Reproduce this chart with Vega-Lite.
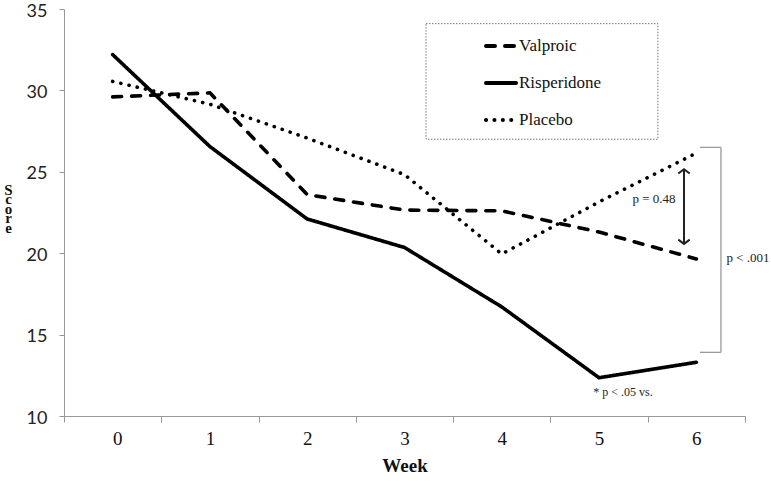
{
  "$schema": "https://vega.github.io/schema/vega-lite/v6.json",
  "width": 681,
  "height": 407,
  "autosize": {"type": "none"},
  "padding": {"left": 64, "top": 9, "right": 26, "bottom": 65},
  "background": "white",
  "config": {"view": {"stroke": null}},
  "datasets": {
    "scores": [
      {"week": 0, "score": 29.6, "drug": "Valproic"},
      {"week": 1, "score": 29.85, "drug": "Valproic"},
      {"week": 2, "score": 23.6, "drug": "Valproic"},
      {"week": 3, "score": 22.65, "drug": "Valproic"},
      {"week": 4, "score": 22.6, "drug": "Valproic"},
      {"week": 5, "score": 21.3, "drug": "Valproic"},
      {"week": 6, "score": 19.65, "drug": "Valproic"},
      {"week": 0, "score": 32.2, "drug": "Risperidone"},
      {"week": 1, "score": 26.55, "drug": "Risperidone"},
      {"week": 2, "score": 22.1, "drug": "Risperidone"},
      {"week": 3, "score": 20.35, "drug": "Risperidone"},
      {"week": 4, "score": 16.7, "drug": "Risperidone"},
      {"week": 5, "score": 12.35, "drug": "Risperidone"},
      {"week": 6, "score": 13.3, "drug": "Risperidone"},
      {"week": 0, "score": 30.55, "drug": "Placebo"},
      {"week": 1, "score": 29.15, "drug": "Placebo"},
      {"week": 2, "score": 27.07, "drug": "Placebo"},
      {"week": 3, "score": 24.83, "drug": "Placebo"},
      {"week": 4, "score": 19.95, "drug": "Placebo"},
      {"week": 5, "score": 23.15, "drug": "Placebo"},
      {"week": 6, "score": 26.15, "drug": "Placebo"}
    ],
    "box": [{"x1": 3.221, "x2": 5.605, "y1": 34.1, "y2": 27.0}],
    "bracketV": [{"x": 6.253, "y1": 26.5, "y2": 13.91}],
    "bracketH": [{"x1": 6.037, "x2": 6.253, "y": 26.5}, {"x1": 6.037, "x2": 6.253, "y": 13.91}],
    "arrow": [{"x": 5.873, "y1": 25.16, "y2": 20.57}],
    "heads": [{"x": 5.873, "y": 25.16, "dir": "up"}, {"x": 5.873, "y": 20.57, "dir": "down"}],
    "notesCenter": [
      {"x": 5.564, "y": 23.33, "label": "p = 0.48", "size": 13},
      {"x": 5.246, "y": 11.47, "label": "* p < .05 vs.", "size": 12}
    ],
    "notesLeft": [
      {"x": 6.31, "y": 19.72, "label": "p < .001", "size": 13}
    ]
  },
  "layer": [
    {
      "data": {"name": "box"},
      "mark": {"type": "rect", "fill": null, "stroke": "#777", "strokeWidth": 1, "strokeDash": [1.5, 1.5]},
      "encoding": {
        "x": {"field": "x1", "type": "quantitative", "scale": {"domain": [-0.5, 6.5], "nice": false, "zero": false},
          "axis": {
            "title": "Week",
            "values": [-0.5, 0.5, 1.5, 2.5, 3.5, 4.5, 5.5, 6.5],
            "labelExpr": "datum.value < 6 ? format(datum.value + 0.5, 'd') : ''",
            "labelOffset": 48.6,
            "labelFont": "Liberation Serif",
            "labelFontSize": 19,
            "labelColor": "#111",
            "labelPadding": 7,
            "tickSize": 6,
            "tickColor": "#999",
            "domainColor": "#999",
            "grid": false,
            "titleFont": "Liberation Serif",
            "titleFontSize": 19,
            "titleFontWeight": "bold",
            "titleColor": "#111",
            "titlePadding": 8
          }},
        "x2": {"field": "x2"},
        "y": {"field": "y1", "type": "quantitative", "scale": {"domain": [10, 35], "nice": false, "zero": false},
          "axis": {
            "title": ["S", "c", "o", "r", "e"],
            "values": [10, 15, 20, 25, 30, 35],
            "labelFont": "Lato",
            "labelFontSize": 18,
            "labelColor": "#222",
            "labelPadding": 12,
            "labelBaseline": "middle",
            "labelOffset": 2,
            "tickSize": 5,
            "tickColor": "#999",
            "domainColor": "#999",
            "grid": false,
            "titleAngle": 0,
            "titleFont": "Liberation Serif",
            "titleFontSize": 15,
            "titleFontWeight": "bold",
            "titleColor": "#111",
            "titleLineHeight": 9.5,
            "titleAlign": "center",
            "titleBaseline": "alphabetic",
            "titleX": -56,
            "titleY": 185
          }},
        "y2": {"field": "y2"}
      }
    },
    {
      "data": {"name": "scores"},
      "mark": {"type": "line", "color": "black", "strokeWidth": 3.6, "strokeCap": "round", "strokeJoin": "miter"},
      "encoding": {
        "x": {"field": "week", "type": "quantitative"},
        "y": {"field": "score", "type": "quantitative"},
        "detail": {"field": "drug"},
        "strokeDash": {
          "field": "drug",
          "type": "nominal",
          "scale": {"domain": ["Valproic", "Risperidone", "Placebo"], "range": [[9, 10], [1, 0], [0.1, 8.3]]},
          "legend": {
            "title": null,
            "orient": "none",
            "legendX": 420,
            "legendY": 20,
            "padding": 0,
            "symbolType": "stroke",
            "symbolSize": 900,
            "symbolStrokeWidth": 4,
            "symbolStrokeColor": "black",
            "labelFont": "Liberation Serif",
            "labelFontSize": 17,
            "labelColor": "#111",
            "labelOffset": 1,
            "rowPadding": 12,
            "encode": {"symbols": {"update": {"strokeCap": {"value": "round"}}}}
          }
        }
      }
    },
    {
      "data": {"name": "bracketV"},
      "mark": {"type": "rule", "color": "#999", "strokeWidth": 1.3},
      "encoding": {
        "x": {"field": "x", "type": "quantitative"},
        "y": {"field": "y1", "type": "quantitative"},
        "y2": {"field": "y2"}
      }
    },
    {
      "data": {"name": "bracketH"},
      "mark": {"type": "rule", "color": "#999", "strokeWidth": 1.3},
      "encoding": {
        "x": {"field": "x1", "type": "quantitative"},
        "x2": {"field": "x2"},
        "y": {"field": "y", "type": "quantitative"}
      }
    },
    {
      "data": {"name": "arrow"},
      "mark": {"type": "rule", "color": "#222", "strokeWidth": 2},
      "encoding": {
        "x": {"field": "x", "type": "quantitative"},
        "y": {"field": "y1", "type": "quantitative"},
        "y2": {"field": "y2"}
      }
    },
    {
      "data": {"name": "heads"},
      "mark": {"type": "point", "filled": false, "color": "#222", "strokeWidth": 2, "opacity": 1, "size": 130},
      "encoding": {
        "x": {"field": "x", "type": "quantitative"},
        "y": {"field": "y", "type": "quantitative"},
        "shape": {
          "field": "dir",
          "type": "nominal",
          "scale": {"domain": ["up", "down"], "range": ["M-1,0.75L0,0L1,0.75", "M-1,-0.75L0,0L1,-0.75"]},
          "legend": null
        }
      }
    },
    {
      "data": {"name": "notesCenter"},
      "mark": {"type": "text", "font": "Liberation Serif", "color": "#222", "baseline": "middle", "align": "center"},
      "encoding": {
        "x": {"field": "x", "type": "quantitative"},
        "y": {"field": "y", "type": "quantitative"},
        "text": {"field": "label"},
        "size": {"field": "size", "type": "quantitative", "scale": null}
      }
    },
    {
      "data": {"name": "notesLeft"},
      "mark": {"type": "text", "font": "Liberation Serif", "color": "#222", "baseline": "middle", "align": "left"},
      "encoding": {
        "x": {"field": "x", "type": "quantitative"},
        "y": {"field": "y", "type": "quantitative"},
        "text": {"field": "label"},
        "size": {"field": "size", "type": "quantitative", "scale": null}
      }
    }
  ]
}
